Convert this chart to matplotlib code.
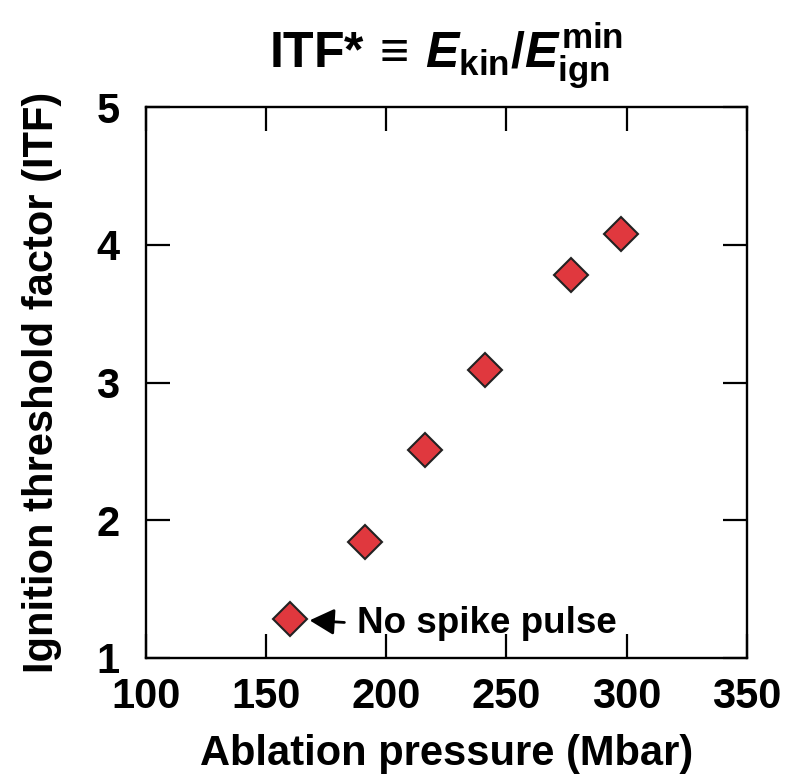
import matplotlib
matplotlib.use("Agg")
import matplotlib.pyplot as plt

# ablation pressure (Mbar) vs. ignition threshold factor
pressure = [160, 191, 216, 241, 277, 297.5]
itf = [1.28, 1.84, 2.51, 3.09, 3.78, 4.08]

xticks = [100, 150, 200, 250, 300, 350]
yticks = [1, 2, 3, 4, 5]

plt.rcParams['font.family'] = ['Liberation Sans', 'DejaVu Sans']
plt.rcParams['font.weight'] = 'bold'
plt.rcParams['mathtext.fontset'] = 'custom'
plt.rcParams['mathtext.rm'] = 'Liberation Sans:bold'
plt.rcParams['mathtext.bf'] = 'Liberation Sans:bold'
plt.rcParams['mathtext.it'] = 'Liberation Sans:bold:italic'

fig = plt.figure(figsize=(7.91, 7.78), dpi=100)
ax = fig.add_axes([0.1846, 0.1546, 0.7595, 0.7075])

ax.plot(pressure, itf, linestyle='none', marker='D', markersize=17.5,
        markerfacecolor='#E0383E', markeredgecolor='#222222',
        markeredgewidth=1.5, zorder=3)

ax.annotate('No spike pulse', xy=(pressure[0], itf[0]),
            xytext=(48, 0), textcoords='offset points',
            ha='left', va='center_baseline', fontsize=26.5, fontweight='bold',
            arrowprops=dict(arrowstyle='-|>,head_length=0.75,head_width=0.4',
                            mutation_scale=20, color='black', lw=2,
                            relpos=(0, 0.5), shrinkA=7, shrinkB=14))

ax.set_xlim(100, 350)
ax.set_ylim(1, 5)
ax.set_xticks(xticks)
ax.set_yticks(yticks)
ax.tick_params(direction='in', length=17, width=1.6, top=True, right=True,
               labelsize=30)
ax.tick_params(axis='x', pad=14)
ax.tick_params(axis='y', pad=19)
for s in ax.spines.values():
    s.set_linewidth(1.7)

ax.set_xlabel('Ablation pressure (Mbar)', fontsize=30, fontweight='bold',
              labelpad=12)
ax.set_ylabel('Ignition threshold factor (ITF)', fontsize=30,
              fontweight='bold', labelpad=25)
ax.set_title(r'ITF*$\,\equiv\,\mathit{E}_{\mathrm{kin}}$/$\mathit{E}_{\mathrm{ign}}^{\mathrm{min}}$',
             fontsize=36, fontweight='bold', pad=28)

fig.savefig('out.png', dpi=100)
